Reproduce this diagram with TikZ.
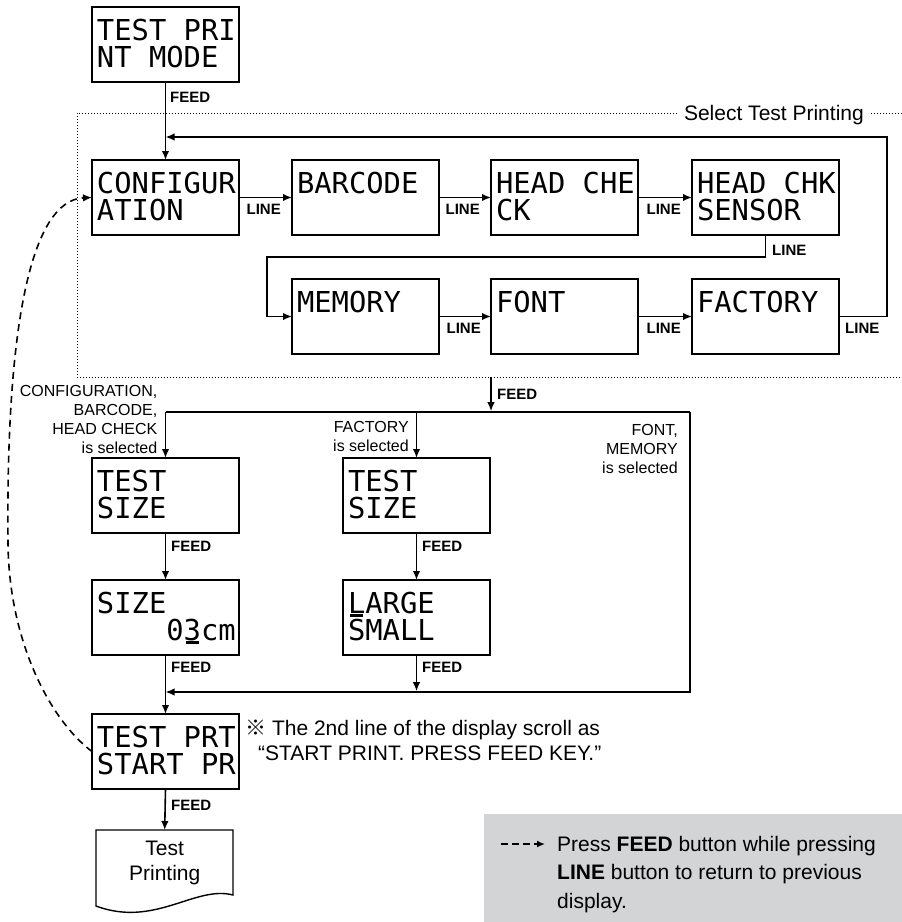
\documentclass[tikz,border=0pt]{standalone}
\usepackage{fontspec}
\setmainfont{Liberation Sans}
\newfontfamily\lcdfamily{DejaVu Sans Mono}
\newfontfamily\refmark{Noto Sans CJK JP}
\usetikzlibrary{arrows.meta}
\definecolor{legendgray}{HTML}{D3D4D6}
\newcommand\lcdfont{\lcdfamily\fontsize{28.8}{28.8}\selectfont}
\newcommand\lcdtext[2]{\vbox to 75pt{\offinterlineskip\hsize=147pt
 \kern33pt\hbox to 147pt{\kern5pt\smash{\lcdfont #1}\hfil}%
 \kern27pt\hbox to 147pt{\kern5pt\smash{\lcdfont #2}\hfil}%
 \vss}}
\tikzset{
 lcdbox/.style={draw, line width=1.6pt, inner sep=0pt, outer sep=0pt, anchor=north west},
 conn/.style={line width=1.6pt, -{Latex[length=9pt,width=7.5pt]}},
 plain/.style={line width=1.6pt},
 back/.style={line width=1.6pt, dash pattern=on 7pt off 5pt, -{Latex[length=9pt,width=7.5pt]}},
 selbox/.style={line width=1pt, dash pattern=on 1pt off 2pt},
 key/.style={font=\bfseries\fontsize{15}{15}\selectfont, inner sep=0pt},
 cond/.style={font=\fontsize{16}{19}\selectfont, align=right, inner sep=0pt},
 note/.style={font=\fontsize{21}{25}\selectfont, align=left, inner sep=0pt},
}
\begin{document}
\begin{tikzpicture}[x=1pt,y=-1pt]
\useasboundingbox (0,0) rectangle (902,922);

% legend background
\fill[legendgray] (484,814) rectangle (902,922);

% selection area (dotted)
\draw[selbox] (902,113) -- (77,113) -- (77,377) -- (902,377);
\node[font=\fontsize{21}{21}\selectfont, fill=white, inner xsep=6pt, inner ysep=3pt, anchor=base east] (selt) at (870,120.5) {Select Test Printing};

% LCD displays
\node[lcdbox] (tpm) at (92,7)   {\lcdtext{TEST PRI}{NT MODE}};
\node[lcdbox] (cfg) at (92,160) {\lcdtext{CONFIGUR}{ATION}};
\node[lcdbox] (bar) at (292,160) {\lcdtext{BARCODE}{}};
\node[lcdbox] (hck) at (491,160) {\lcdtext{HEAD CHE}{CK}};
\node[lcdbox] (sen) at (692,160) {\lcdtext{HEAD CHK}{SENSOR}};
\node[lcdbox] (mem) at (292,279) {\lcdtext{MEMORY}{}};
\node[lcdbox] (fnt) at (491,279) {\lcdtext{FONT}{}};
\node[lcdbox] (fac) at (692,279) {\lcdtext{FACTORY}{}};
\node[lcdbox] (ts1) at (92,458) {\lcdtext{TEST}{SIZE}};
\node[lcdbox] (ts2) at (343,458) {\lcdtext{TEST}{SIZE}};
\node[lcdbox] (sz)  at (92,580) {\lcdtext{SIZE}{\phantom{0000}03cm}};
\node[lcdbox] (lg)  at (343,580) {\lcdtext{LARGE}{SMALL}};
\node[lcdbox] (tp)  at (92,714) {\lcdtext{TEST PRT}{START PR}};

% cursor bars
\fill (185.5,641) rectangle (199,643.5);
\fill (349.5,614) rectangle (362.5,616.5);

% printout
\node[minimum width=137pt, minimum height=65pt, inner sep=0pt, anchor=north west,
      align=center, font=\fontsize{21}{25}\selectfont] (doc) at (96,830) {Test\\Printing};
\draw[line width=1.4pt] (96,830) -- (233,830) -- (233,895)
  .. controls (195,885) and (155,928) .. (96,906) -- cycle;

% connectors
\draw[conn] (tpm.south) -- (cfg.north);
\coordinate (rt) at (887,137);
\draw[conn] (fac.east) -| (rt) -- (cfg.north |- rt);
\draw[conn] (cfg.east) -- (bar.west);
\draw[conn] (bar.east) -- (hck.west);
\draw[conn] (hck.east) -- (sen.west);
\coordinate (sw) at (267,257);
\draw[conn] (sen.south) |- (sw) |- (mem.west);
\draw[conn] (mem.east) -- (fnt.west);
\draw[conn] (fnt.east) -- (fac.west);

\coordinate (fa) at (491,377);
\coordinate (br) at (690,412);
\draw[conn, shorten >=0.8pt] (fa) -- (fa |- br);
\draw[plain] (ts1.north |- br) -- (br);
\draw[conn] (ts1.north |- br) -- (ts1.north);
\draw[conn] (ts2.north |- br) -- (ts2.north);
\draw[conn] (ts1.south) -- (sz.north);
\draw[conn] (ts2.south) -- (lg.north);
\coordinate (jn) at (tp.north |- 0,692);
\draw[conn] (br) |- (jn);
\draw[conn, shorten >=0.8pt] (lg.south) -- (lg.south |- jn);
\draw[conn] (sz.south) -- (tp.north);
\draw[conn] (tp.south) -- (doc.north);

% return (dashed)
\draw[back] (tp.west) .. controls (50,720) and (8,640) .. (8,540)
  .. controls (6,330) and (30,200) .. (cfg.west);

% key labels
\node[key, anchor=base west] (f1) at (170,102) {FEED};
\node[key, anchor=base east] (l1) at (281,214.5) {LINE};
\node[key, anchor=base east] (l2) at (480,214.5) {LINE};
\node[key, anchor=base east] (l3) at (681,214.5) {LINE};
\node[key, anchor=base west] (l4) at (772,255) {LINE};
\node[key, anchor=base east] (l5) at (481,333.5) {LINE};
\node[key, anchor=base east] (l6) at (681,333.5) {LINE};
\node[key, anchor=base west] (l7) at (845,333) {LINE};
\node[key, anchor=base west] (f2) at (497,399) {FEED};
\node[key, anchor=base west] (f3) at (171,551) {FEED};
\node[key, anchor=base west] (f4) at (422,551) {FEED};
\node[key, anchor=base west] (f5) at (171,672) {FEED};
\node[key, anchor=base west] (f6) at (422,672) {FEED};
\node[key, anchor=base west] (f7) at (171,810) {FEED};

% conditions
\node[cond, anchor=north east] (c1) at (157.5,384.8) {CONFIGURATION,\\BARCODE,\\HEAD CHECK\\is selected};
\node[cond, anchor=north east] (c2) at (409,421.3) {FACTORY\\is selected};
\node[cond, anchor=north east] (c3) at (678,424.3) {FONT,\\MEMORY\\is selected};

% note
\node[note, anchor=north west] (nt) at (245,719.7) {{\refmark\smash{※}} The 2nd line of the display scroll as\\\hspace*{13pt}“START PRINT. PRESS FEED KEY.”};

% legend
\coordinate (la) at (501,844);
\coordinate (lb) at (545,844);
\draw[line width=1.6pt, dash pattern=on 7pt off 4pt, -{Latex[length=8pt,width=7pt]}] (la) -- (lb);
\node[note, font=\fontsize{21}{28.5}\selectfont, anchor=north west] (leg) at (557,835.7)
  {Press \textbf{FEED} button while pressing\\\textbf{LINE} button to return to previous\\display.};
\end{tikzpicture}
\end{document}
